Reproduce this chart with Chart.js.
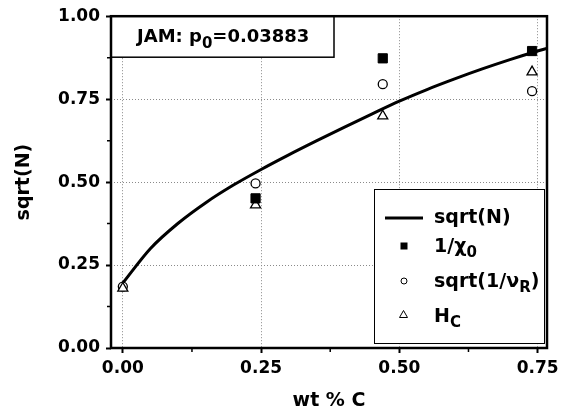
<!DOCTYPE html>
<html>
<head>
<meta charset="utf-8">
<script src="https://cdn.jsdelivr.net/npm/chart.js@4"></script>
<style>
  html, body { margin: 0; padding: 0; background: #fff; }
  #wrap { width: 572px; height: 420px; }
</style>
</head>
<body>
<div id="wrap"><canvas id="chart" width="572" height="420"></canvas></div>
<script>
// data
const xTicks = [0, 0.25, 0.5, 0.75];
const yTicks = [0, 0.25, 0.5, 0.75, 1.0];
const xMinor = [0.125, 0.375, 0.625];
const yMinor = [0.125, 0.375, 0.625, 0.875];

const lineX = [0, 0.05, 0.10, 0.15, 0.20, 0.25, 0.30, 0.35, 0.40, 0.45, 0.50, 0.55, 0.60, 0.65, 0.70, 0.75, 0.767];
const lineY = [0.196, 0.300, 0.376, 0.438, 0.491, 0.538, 0.582, 0.624, 0.665, 0.705, 0.744, 0.779, 0.811, 0.841, 0.869, 0.895, 0.903];

const chiX = [0.24, 0.47, 0.74];
const chiY = [0.451, 0.873, 0.895];

const nuX = [0, 0.24, 0.47, 0.74];
const nuY = [0.185, 0.496, 0.795, 0.774];

const hcX = [0, 0.24, 0.47, 0.74];
const hcY = [0.180, 0.431, 0.699, 0.832];

const FONT = '"DejaVu Sans", sans-serif';
Chart.defaults.font.family = FONT;
Chart.defaults.color = '#000';

function pts(xs, ys) {
    return xs.map((x, i) => ({ x: x, y: ys[i] }));
}

// draw text with a subscript part: parts = [[text, isSub], ...]
function drawRich(ctx, parts, x, y, size, subSize, subDrop) {
    let cx = x;
    parts.forEach(p => {
        const sub = p[1];
        ctx.font = 'bold ' + (sub ? subSize : size) + 'px ' + FONT;
        ctx.fillText(p[0], cx, sub ? y + subDrop : y);
        cx += ctx.measureText(p[0]).width;
    });
}

const decor = {
    id: 'decor',
    afterDatasetsDraw(chart) {
        const ctx = chart.ctx;
        const a = chart.chartArea;
        const xs = chart.scales.x, ys = chart.scales.y;
        ctx.save();

        // minor ticks
        ctx.strokeStyle = '#000';
        ctx.lineWidth = 1.5;
        ctx.beginPath();
        xMinor.forEach(v => {
            const px = xs.getPixelForValue(v);
            ctx.moveTo(px, a.bottom);
            ctx.lineTo(px, a.bottom + 4);
        });
        yMinor.forEach(v => {
            const py = ys.getPixelForValue(v);
            ctx.moveTo(a.left, py);
            ctx.lineTo(a.left - 4, py);
        });
        ctx.stroke();

        // title box
        ctx.fillStyle = '#fff';
        ctx.fillRect(a.left, a.top, 223, 41);
        ctx.strokeStyle = '#000';
        ctx.lineWidth = 1.5;
        ctx.strokeRect(a.left, a.top, 223, 41);
        ctx.fillStyle = '#000';
        ctx.textBaseline = 'alphabetic';
        ctx.textAlign = 'left';
        drawRich(ctx, [['JAM: p', false], ['0', true], ['=0.03883', false]], 137, 42, 18, 15, 6);

        // legend box
        ctx.fillStyle = '#fff';
        ctx.fillRect(374, 189, 170, 154);
        ctx.strokeStyle = '#000';
        ctx.lineWidth = 1;
        ctx.strokeRect(374.5, 189.5, 170, 154);

        // legend markers
        ctx.lineWidth = 3;
        ctx.beginPath();
        ctx.moveTo(385, 218);
        ctx.lineTo(423, 218);
        ctx.stroke();
        ctx.fillStyle = '#000';
        ctx.fillRect(400.5, 242.5, 7, 7);
        ctx.lineWidth = 1;
        ctx.fillStyle = '#fff';
        ctx.beginPath();
        ctx.arc(404, 281, 3, 0, Math.PI * 2);
        ctx.fill();
        ctx.stroke();
        ctx.beginPath();
        ctx.moveTo(403.5, 310.5);
        ctx.lineTo(407.5, 317.5);
        ctx.lineTo(399.5, 317.5);
        ctx.closePath();
        ctx.fill();
        ctx.stroke();

        ctx.fillStyle = '#000';
        drawRich(ctx, [['sqrt(N)', false]], 434, 223, 19, 15, 5);
        drawRich(ctx, [['1/\u03C7', false], ['0', true]], 434, 252, 19, 15, 5);
        drawRich(ctx, [['sqrt(1/\u03BD', false], ['R', true], [')', false]], 434, 287, 19, 15, 5);
        drawRich(ctx, [['H', false], ['C', true]], 434, 322, 19, 15, 5);

        // frame
        ctx.strokeStyle = '#000';
        ctx.lineWidth = 2.5;
        ctx.strokeRect(a.left, a.top, a.right - a.left, a.bottom - a.top);
        ctx.restore();
    }
};

const gridCommon = {
    color: '#8a8a8a',
    lineWidth: 1,
    tickColor: '#000',
    tickLength: 5,
    tickWidth: 2
};

new Chart(document.getElementById('chart'), {
    type: 'scatter',
    data: {
        datasets: [
            {
                label: 'sqrt(N)',
                data: pts(lineX, lineY),
                showLine: true,
                borderColor: '#000',
                borderWidth: 3,
                pointRadius: 0,
                cubicInterpolationMode: 'monotone',
                order: 4
            },
            {
                label: '1/chi0',
                data: pts(chiX, chiY),
                pointStyle: 'rect',
                pointRadius: 6.5,
                backgroundColor: '#000',
                borderColor: '#000',
                borderWidth: 1,
                order: 1
            },
            {
                label: 'sqrt(1/nuR)',
                data: pts(nuX, nuY),
                pointStyle: 'circle',
                pointRadius: 4.5,
                backgroundColor: '#fff',
                borderColor: '#000',
                borderWidth: 1.3,
                order: 3
            },
            {
                label: 'HC',
                data: pts(hcX, hcY),
                pointStyle: 'triangle',
                pointRadius: 5.8,
                backgroundColor: '#fff',
                borderColor: '#000',
                borderWidth: 1.3,
                order: 2
            }
        ]
    },
    options: {
        responsive: false,
        animation: false,
        layout: { padding: { left: 0, top: 16, right: 25, bottom: 0 } },
        plugins: {
            legend: { display: false },
            tooltip: { enabled: false }
        },
        scales: {
            x: {
                type: 'linear',
                min: -0.0214,
                max: 0.767,
                afterBuildTicks: (scale) => { scale.ticks = xTicks.map(v => ({ value: v })); },
                afterFit: (scale) => { scale.height = 72; },
                ticks: {
                    padding: 5,
                    maxRotation: 0,
                    font: { size: 17, weight: 'bold' },
                    callback: (v) => v.toFixed(2)
                },
                grid: gridCommon,
                border: { display: false, dash: [1, 2] },
                title: {
                    display: true,
                    text: 'wt % C',
                    font: { size: 19, weight: 'bold' },
                    padding: { top: 0, bottom: 8 }
                }
            },
            y: {
                type: 'linear',
                min: 0,
                max: 1,
                afterBuildTicks: (scale) => { scale.ticks = yTicks.map(v => ({ value: v })); },
                afterFit: (scale) => { scale.width = 111; },
                ticks: {
                    padding: 6,
                    font: { size: 17, weight: 'bold' },
                    callback: (v) => v.toFixed(2)
                },
                grid: gridCommon,
                border: { display: false, dash: [1, 2] },
                title: {
                    display: true,
                    text: 'sqrt(N)',
                    font: { size: 19, weight: 'bold' },
                    padding: { top: 13, bottom: 0 }
                }
            }
        }
    },
    plugins: [decor]
});
</script>
</body>
</html>
